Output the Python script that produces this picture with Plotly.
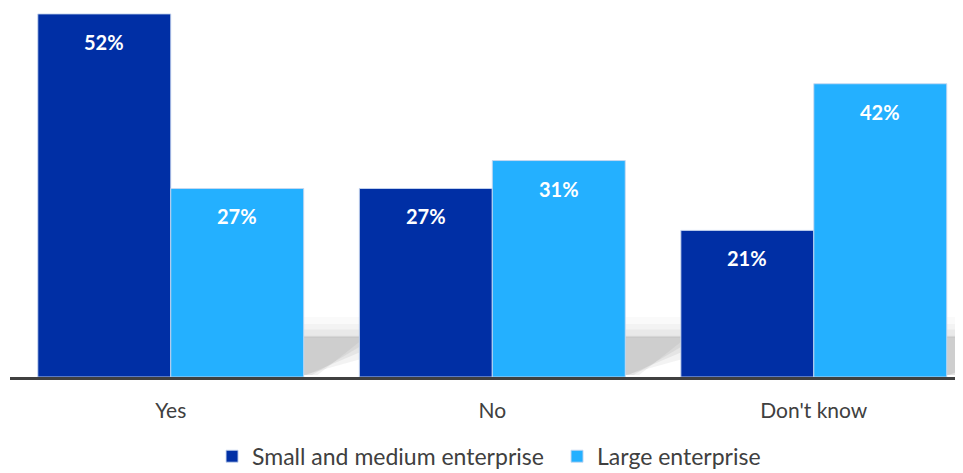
import plotly.graph_objects as go

categories = ["Yes", "No", "Don't know"]
series_names = ["Small and medium enterprise", "Large enterprise"]
sme_values = [52, 27, 21]
large_values = [27, 31, 42]

DARK = "#002FA5"
LIGHT = "#24B0FF"
FONT = "Lato, 'Open Sans', sans-serif"

xs = list(range(len(categories)))
bw = 0.4135  # bar width in category units

fig = go.Figure()
for name, vals, col, off in [(series_names[0], sme_values, DARK, -bw),
                             (series_names[1], large_values, LIGHT, 0.0)]:
    fig.add_trace(go.Bar(
        x=xs, y=vals, name=name, width=bw, offset=off,
        marker=dict(color=col, line=dict(color="rgba(200,215,240,0.9)", width=1)),
        hoverinfo="skip",
    ))
    for x, v in zip(xs, vals):
        fig.add_annotation(x=x + off + bw / 2, y=v, yshift=-28, text=f"<b>{v}%</b>",
                           showarrow=False, font=dict(color="white", size=20, family=FONT))

# soft grey floor shadows between groups (decoration)
shapes = []
for i in range(len(categories)):
    x0 = i + bw
    x1 = i + 1 - bw
    w = x1 - x0
    # faint bands above
    for top, op in [(8.6, 0.04), (7.6, 0.05), (6.8, 0.07)]:
        shapes.append(dict(type="rect", xref="x", yref="y", x0=x0, x1=x1, y0=5.6, y1=top,
                           fillcolor=f"rgba(120,120,120,{op})", line=dict(width=0), layer="below"))
    # blurred wedge
    for (yl, yr, xb), op in [((5.9, 5.0, 0.25), 0.10), ((5.8, 4.3, 0.15), 0.11),
                             ((5.7, 3.5, 0.05), 0.11), ((5.6, 2.5, 0.0), 0.09)]:
        shapes.append(dict(type="path", xref="x", yref="y",
                           path=(f"M {x0} 0.3 L {x0} {yl} L {x1} {yl} L {x1} {yr} "
                                 f"L {x0 + w * xb} 0.3 Z"),
                           fillcolor=f"rgba(120,120,120,{op})", line=dict(width=0), layer="below"))

fig.update_layout(
    width=955, height=465,
    margin=dict(l=2, r=0, t=0, b=96),
    paper_bgcolor="white", plot_bgcolor="white",
    barmode="group",
    shapes=shapes,
    font=dict(family=FONT, color="#404040"),
    xaxis=dict(range=[-0.5, 2.464], tickmode="array", tickvals=xs, ticktext=categories,
               showgrid=False, zeroline=False, showline=True, linecolor="#404040", linewidth=3,
               ticks="", ticklabelstandoff=13, tickfont=dict(size=21, color="#404040", family=FONT)),
    yaxis=dict(range=[0, 52.85], visible=False, showgrid=False, zeroline=False),
    legend=dict(orientation="h", x=0.212, xanchor="left", yref="container", y=0.036,
                yanchor="middle",
                font=dict(size=23, color="#404040", family=FONT), entrywidth=300,
                itemwidth=30, traceorder="normal"),
    showlegend=True,
)

fig.write_html("out.html")
